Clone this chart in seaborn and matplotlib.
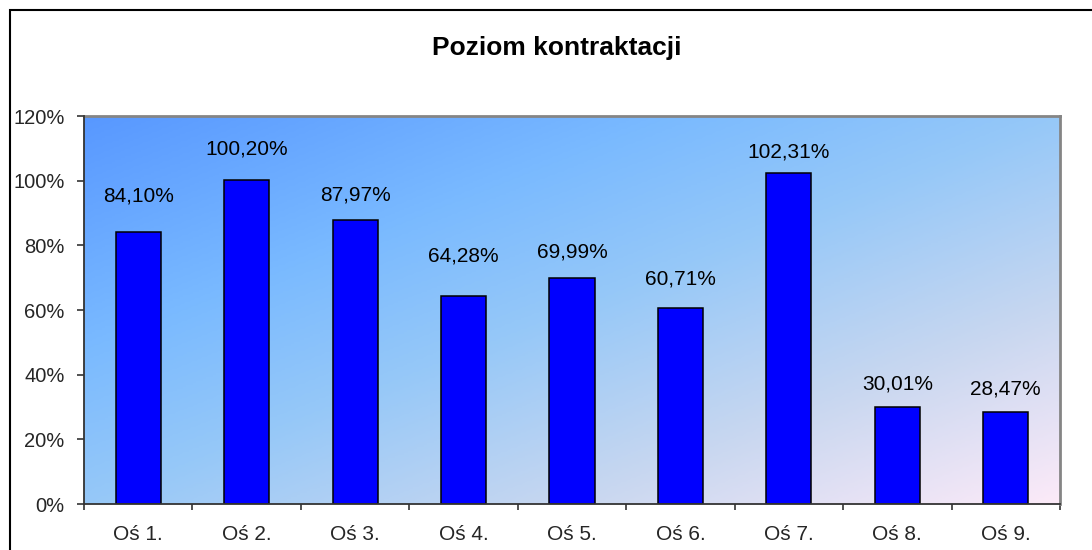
import numpy as np
import pandas as pd
import matplotlib
matplotlib.use("Agg")
import matplotlib.pyplot as plt
from matplotlib.colors import LinearSegmentedColormap
from matplotlib.patches import Rectangle
from matplotlib.ticker import FixedLocator
import seaborn as sns

# ---- data ----
categories = ["Oś 1.", "Oś 2.", "Oś 3.", "Oś 4.", "Oś 5.", "Oś 6.", "Oś 7.", "Oś 8.", "Oś 9."]
values = [84.10, 100.20, 87.97, 64.28, 69.99, 60.71, 102.31, 30.01, 28.47]
y_ticks = [0, 20, 40, 60, 80, 100, 120]
title = "Poziom kontraktacji"

# ---- layout (label gap above bar top, in pixels) ----
label_gap_px = [31, 26, 19, 35, 20, 23, 16, 17, 17]

sns.set_style("white")
plt.rcParams["font.family"] = ["Liberation Sans", "DejaVu Sans"]

W, H, DPI = 1092, 550, 100
fig = plt.figure(figsize=(W / DPI, H / DPI), dpi=DPI)
fig.patch.set_facecolor("white")

left, right, top, bottom = 84, 1060, 116, 504
ax = fig.add_axes([left / W, 1 - bottom / H, (right - left) / W, (bottom - top) / H])

# gradient background
cmap = LinearSegmentedColormap.from_list(
    "bg",
    [(0.0, (88/255, 152/255, 255/255)),
     (0.3, (122/255, 186/255, 255/255)),
     (0.5, (150/255, 200/255, 248/255)),
     (0.75, (200/255, 215/255, 240/255)),
     (1.0, (252/255, 234/255, 248/255))])
gx, gy = np.meshgrid(np.linspace(0, 1, 300), np.linspace(0, 1, 200))
t = (gx + gy) / 2.0  # gy = 0 at top row (origin upper)
ax.imshow(t, extent=[0, 1, 0, 1], transform=ax.transAxes, cmap=cmap,
          aspect="auto", origin="upper", interpolation="bilinear", zorder=0, vmin=0, vmax=1)

df = pd.DataFrame({"cat": categories, "val": values})
sns.barplot(data=df, x="cat", y="val", color="#0000ff", saturation=1,
            edgecolor="black", linewidth=1.1, width=0.415, ax=ax, zorder=2)

ax.set_xlim(-0.5, len(categories) - 0.5)
ax.set_ylim(0, 120)
ax.set_xlabel("")
ax.set_ylabel("")

# data labels
for i, v in enumerate(values):
    ax.annotate(f"{v:.2f}".replace(".", ",") + "%", xy=(i, v),
                xytext=(0, label_gap_px[i] * 72 / DPI), textcoords="offset points",
                ha="center", va="baseline", fontsize=15, color="black", zorder=3)

# y axis
ax.set_yticks(y_ticks)
ax.set_yticklabels([f"{v}%" for v in y_ticks], fontsize=14.5)
ax.tick_params(axis="y", direction="out", length=5, width=1.2, color="#333333", pad=9, left=True)

# x axis: labels at centers, tick marks at boundaries
ax.set_xticks(range(len(categories)))
ax.set_xticklabels(categories, fontsize=15)
ax.tick_params(axis="x", which="major", length=0, pad=15)
ax.xaxis.set_minor_locator(FixedLocator(np.arange(-0.5, len(categories), 1.0)))
ax.tick_params(axis="x", which="minor", direction="out", length=4.5, width=1.2,
               color="#333333", bottom=True)

for s in ["left", "bottom"]:
    ax.spines[s].set_color("#333333")
    ax.spines[s].set_linewidth(1.3)
    ax.spines[s].set_zorder(4)
for s in ["top", "right"]:
    ax.spines[s].set_visible(True)
    ax.spines[s].set_color("#858585")
    ax.spines[s].set_linewidth(2)

fig.text(557 / W, 1 - 55 / H, title, ha="center", va="baseline",
         fontsize=19, fontweight="bold", color="black")

# chart border (right/bottom edges lie outside the image)
fig.patches.append(Rectangle((9.5 / W, -0.1), 1.2, (1 - 10.5 / H) + 0.1,
                             transform=fig.transFigure, fill=False,
                             edgecolor="black", linewidth=1.5, zorder=10))

fig.savefig("out.png", dpi=DPI, facecolor="white")
